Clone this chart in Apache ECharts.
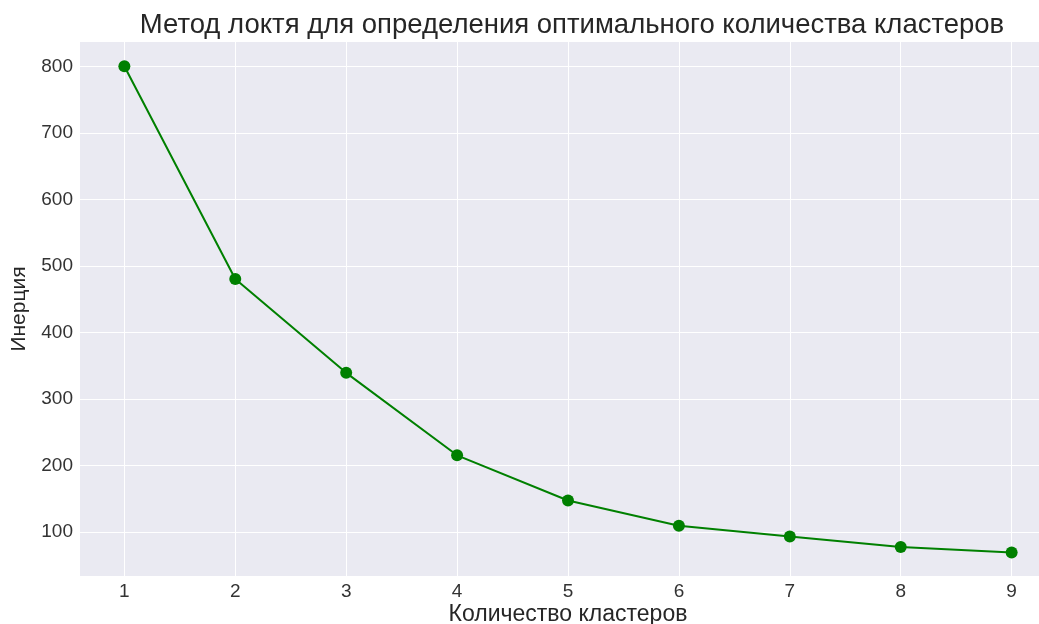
<!DOCTYPE html>
<html>
<head>
<meta charset="utf-8">
<script src="https://cdn.jsdelivr.net/npm/echarts@6/dist/echarts.min.js"></script>
<style>html,body{margin:0;padding:0;background:#fff}#c{width:1039px;height:624px}</style>
</head>
<body>
<div id="c"></div>
<script>
const clusters = [1, 2, 3, 4, 5, 6, 7, 8, 9];
const inertia = [800, 480, 339, 215, 147, 109, 93, 77, 69];
const xTicks = [1, 2, 3, 4, 5, 6, 7, 8, 9];
const yTicks = [100, 200, 300, 400, 500, 600, 700, 800];

const chart = echarts.init(document.getElementById('c'), null, {renderer: 'canvas'});
const font = 'Liberation Sans';
chart.setOption({
  animation: false,
  backgroundColor: '#ffffff',
  title: {
    text: 'Метод локтя для определения оптимального количества кластеров',
    left: 567, top: 6, textAlign: 'center',
    textStyle: {fontFamily: font, fontSize: 27.5, fontWeight: 'normal', color: '#262626'}
  },
  grid: {left: 80, top: 42, right: -17, bottom: 48, backgroundColor: '#EAEAF2', show: true, borderWidth: 0,
         outerBoundsMode: 'none', containLabel: false},
  xAxis: {
    type: 'value', min: 0.6, max: 9.4,
    name: 'Количество кластеров', nameLocation: 'middle', nameGap: 27, nameMoveOverlap: false,
    nameTextStyle: {fontFamily: font, fontSize: 23, color: '#262626', lineHeight: 23},
    axisLine: {show: false},
    axisTick: {show: false, customValues: xTicks},
    axisLabel: {customValues: xTicks, fontFamily: font, fontSize: 19, color: '#333333', margin: 6},
    splitLine: {show: true, lineStyle: {color: '#ffffff', width: 1}}
  },
  yAxis: {
    type: 'value', min: 33.5, max: 836.5,
    name: 'Инерция', nameLocation: 'middle', nameGap: 50, nameRotate: 90, nameMoveOverlap: false,
    nameTextStyle: {fontFamily: font, fontSize: 21, color: '#262626'},
    axisLine: {show: false},
    axisTick: {show: false, customValues: yTicks},
    axisLabel: {customValues: yTicks, fontFamily: font, fontSize: 19, color: '#333333', margin: 7},
    splitLine: {show: true, lineStyle: {color: '#ffffff', width: 1}}
  },
  series: [{
    type: 'line',
    data: clusters.map((c, i) => [c, inertia[i]]),
    symbol: 'circle', symbolSize: 12, showAllSymbol: true,
    lineStyle: {color: '#008000', width: 2},
    itemStyle: {color: '#008000'}
  }]
});
</script>
</body>
</html>
